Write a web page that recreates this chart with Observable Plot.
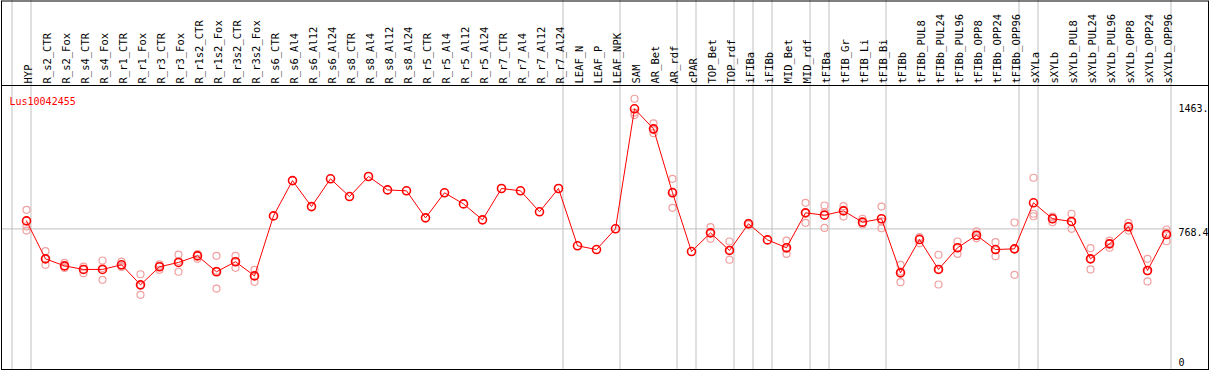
<!DOCTYPE html>
<html>
<head>
<meta charset="utf-8">
<script src="https://cdn.jsdelivr.net/npm/d3@7"></script>
<script src="https://cdn.jsdelivr.net/npm/@observablehq/plot@0.6"></script>
<style>
  html, body { margin: 0; padding: 0; background: #fff; }
  #chart svg { display: block; }
</style>
</head>
<body>
<div id="chart"></div>
<script>
const geneTitle = "Lus10042455";

const categories = [
  "HYP","R_s2_CTR","R_s2_Fox","R_s4_CTR","R_s4_Fox","R_r1_CTR","R_r1_Fox","R_r3_CTR","R_r3_Fox",
  "R_r1s2_CTR","R_r1s2_Fox","R_r3s2_CTR","R_r3s2_Fox","R_s6_CTR","R_s6_Al4","R_s6_Al12","R_s6_Al24",
  "R_s8_CTR","R_s8_Al4","R_s8_Al12","R_s8_Al24","R_r5_CTR","R_r5_Al4","R_r5_Al12","R_r5_Al24",
  "R_r7_CTR","R_r7_Al4","R_r7_Al12","R_r7_Al24","LEAF_N","LEAF_P","LEAF_NPK","SAM","AR_Bet","AR_rdf",
  "cPAR","TOP_Bet","TOP_rdf","iFIBa","iFIBb","MID_Bet","MID_rdf","tFIBa","tFIB_Gr","tFIB_Li","tFIB_Bi",
  "tFIBb","tFIBb_PUL8","tFIBb_PUL24","tFIBb_PUL96","tFIBb_OPP8","tFIBb_OPP24","tFIBb_OPP96",
  "sXYLa","sXYLb","sXYLb_PUL8","sXYLb_PUL24","sXYLb_PUL96","sXYLb_OPP8","sXYLb_OPP24","sXYLb_OPP96"
];

const means = [
  813,601,562,542,542,568,456,557,581,618,529,585,506,841,1038,893,1048,
  949,1061,986,981,830,970,908,819,994,981,864,994,674,653,769,1439,1327,970,
  642,746,648,797,707,663,858,845,869,806,825,
  523,709,542,663,733,653,657,
  914,825,810,601,685,780,536,737
];

const repA = [
  875,644,579,558,592,586,515,570,625,625,618,618,540,null,null,null,null,
  null,null,null,null,null,null,null,null,null,null,null,null,null,null,null,1495,1358,1048,
  null,778,698,802,null,703,914,899,895,825,893,
  568,722,624,698,755,694,804,
  1054,837,853,661,703,802,601,765
];
const repB = [
  782,568,558,521,484,562,400,540,529,601,435,551,473,null,null,null,null,
  null,null,null,null,null,null,null,null,null,null,null,null,null,null,null,1418,1303,886,
  null,713,596,792,null,629,802,774,837,793,772,
  471,688,458,629,728,616,512,
  853,806,769,542,663,759,475,700
];
const repC = [
  759,601,550,542,550,556,453,561,589,628,534,586,505,null,null,null,null,
  null,null,null,null,null,null,null,null,null,null,null,null,null,null,null,1404,1320,976,
  null,747,650,null,null,657,858,862,875,800,810,
  530,717,543,662,716,649,655,
  839,832,808,600,689,779,532,746
];

// indices of the last category in each tissue group (separator drawn after it); -1 = left edge
const groupEnds = [-1,0,28,31,34,35,37,38,39,41,42,45,52,53,60];

const yTickValues = [1463, 768.4, 0];
const yTickLabels = ["1463.", "768.4", "0"];
const gridValues = [768.4];

const meanData = categories.map((c, i) => ({i, name: c, v: means[i]}));
const repData = [];
[repA, repB, repC].forEach(arr => arr.forEach((v, i) => { if (v != null) repData.push({i, v}); }));
const tickData = yTickValues.map((v, k) => ({v, label: yTickLabels[k]}));
const upperTicks = tickData.filter(d => d.v !== 0);
const zeroTick = tickData.filter(d => d.v === 0);

const font = "DejaVu Sans Mono, monospace";

const chart = Plot.plot({
  width: 1209,
  height: 370,
  marginTop: 85,
  marginBottom: 1,
  marginLeft: 1,
  marginRight: 1,
  style: {fontFamily: font, fontSize: "10px", background: "#fff"},
  x: {type: "linear", domain: [0, categories.length - 1], range: [26, 1166], axis: null},
  y: {type: "linear", domain: [0, 1463], range: [366, 104], axis: null},
  marks: [
    Plot.ruleX(groupEnds, {x: d => d, dx: 4.5, stroke: "#c0c0c0", insetTop: -85}),
    Plot.ruleY(gridValues, {y: d => d, stroke: "#c0c0c0", insetRight: 37}),
    Plot.frame({stroke: "black", insetTop: -84.5}),
    Plot.frame({stroke: "black"}),
    Plot.dot(repData, {x: "i", y: "v", r: 3.5, stroke: "#f0a0a0", strokeWidth: 1.2}),
    Plot.line(meanData, {x: "i", y: "v", stroke: "red", strokeWidth: 1}),
    Plot.dot(meanData, {x: "i", y: "v", r: 4, stroke: "red", strokeWidth: 1.6, fill: "none"}),
    Plot.text(meanData, {x: "i", text: "name", frameAnchor: "top", dy: -2, dx: 2, rotate: -90,
      textAnchor: "start", lineAnchor: "middle", fill: "black", fontFamily: font, fontSize: 10.5}),
    Plot.text([geneTitle], {text: d => d, frameAnchor: "top-left", dx: 8, dy: 12,
      textAnchor: "start", fill: "red", fontFamily: font, fontSize: 10}),
    Plot.text(upperTicks, {x: () => categories.length - 1, y: "v", text: "label", dx: 12, dy: 4,
      textAnchor: "start", fill: "black", fontFamily: font, fontSize: 10}),
    Plot.text(zeroTick, {x: () => categories.length - 1, y: "v", text: "label", dx: 12, dy: -4,
      textAnchor: "start", fill: "black", fontFamily: font, fontSize: 10})
  ]
});

document.getElementById("chart").appendChild(chart);
</script>
</body>
</html>
